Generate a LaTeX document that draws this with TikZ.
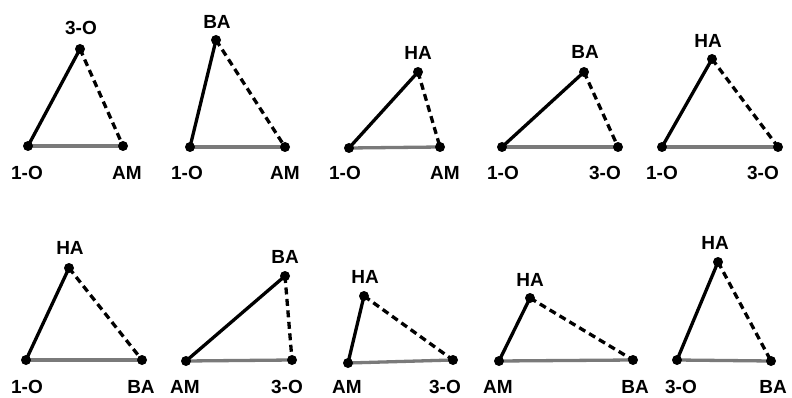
\documentclass[tikz,border=0pt]{standalone}
\usepackage{fontspec}
\setmainfont{Liberation Sans}
\begin{document}
\begin{tikzpicture}[x=1pt,y=-1pt,
  lab/.style={font=\bfseries\fontsize{19}{20}\selectfont, inner sep=0pt},
  dot/.style={circle, fill=black, inner sep=0pt, minimum size=10pt},
  baseedge/.style={draw=black!52, line width=3.3pt},
  solidedge/.style={draw=black, line width=3.3pt},
  dashedge/.style={draw=black, line width=3.3pt, dash pattern=on 7pt off 4.5pt}]
\useasboundingbox (0,0) rectangle (792,398);
\newcommand\tri[4]{%
  \coordinate (#1l) at (#2);
  \coordinate (#1r) at (#3);
  \coordinate (#1a) at (#4);
  \draw[baseedge] (#1l) -- (#1r);
  \draw[solidedge] (#1l) -- (#1a);
  \draw[dashedge] (#1a) -- (#1r);
  \node[dot] (#1ld) at (#1l) {};
  \node[dot] (#1rd) at (#1r) {};
  \node[dot] (#1ad) at (#1a) {};
}
% Row 1
\tri{t1}{28,146}{123,146}{80,49}
\node[lab] (t1lt) at (27,173) {1-O};
\node[lab] (t1rt) at (127,173) {AM};
\node[lab] (t1at) at (81,28) {3-O};
\tri{t2}{190,147}{285,147}{216,40}
\node[lab] (t2lt) at (187,173) {1-O};
\node[lab] (t2rt) at (285,173) {AM};
\node[lab] (t2at) at (217,22) {BA};
\tri{t3}{349,148}{440,147}{418,72}
\node[lab] (t3lt) at (345,173) {1-O};
\node[lab] (t3rt) at (445,173) {AM};
\node[lab] (t3at) at (418,53) {HA};
\tri{t4}{502,147}{618,147}{584,72}
\node[lab] (t4lt) at (503,173) {1-O};
\node[lab] (t4rt) at (605,173) {3-O};
\node[lab] (t4at) at (585,52) {BA};
\tri{t5}{662,147}{778,147}{712,59}
\node[lab] (t5lt) at (662,173) {1-O};
\node[lab] (t5rt) at (763,173) {3-O};
\node[lab] (t5at) at (708,41) {HA};
% Row 2
\tri{t6}{26,360}{142,360}{69,268}
\node[lab] (t6lt) at (27,387) {1-O};
\node[lab] (t6rt) at (141,387) {BA};
\node[lab] (t6at) at (70,248) {HA};
\tri{t7}{186,361}{292,360}{285,276}
\node[lab] (t7lt) at (185,387) {AM};
\node[lab] (t7rt) at (287,387) {3-O};
\node[lab] (t7at) at (285,257) {BA};
\tri{t8}{348,363}{453,360}{364,296}
\node[lab] (t8lt) at (347,387) {AM};
\node[lab] (t8rt) at (445,387) {3-O};
\node[lab] (t8at) at (365,277) {HA};
\tri{t9}{499,361}{633,360}{530,298}
\node[lab] (t9lt) at (498,387) {AM};
\node[lab] (t9rt) at (635,387) {BA};
\node[lab] (t9at) at (530,280) {HA};
\tri{t10}{677,360}{771,361}{718,262}
\node[lab] (t10lt) at (681,387) {3-O};
\node[lab] (t10rt) at (773,387) {BA};
\node[lab] (t10at) at (715,243) {HA};
\end{tikzpicture}
\end{document}
